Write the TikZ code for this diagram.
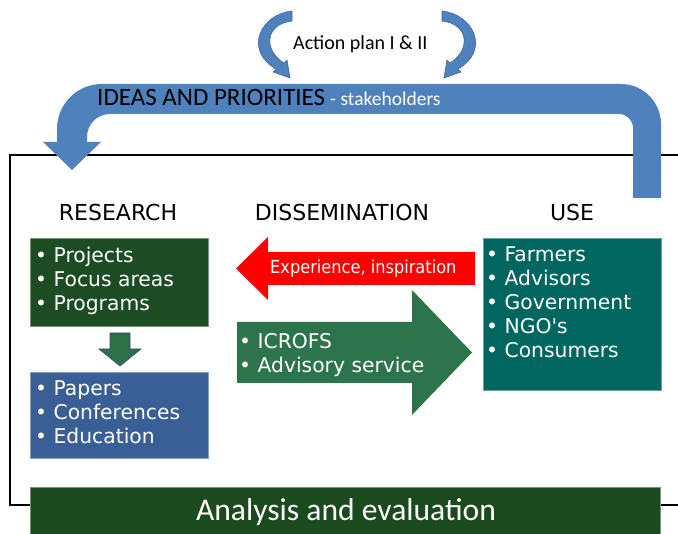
\documentclass[tikz,border=0pt]{standalone}
\usepackage{fontspec}
\setmainfont{DejaVu Sans}
\newfontfamily\calfont{Carlito}
\newfontfamily\narrowfont{DejaVu Sans}[FakeStretch=0.9]
\definecolor{bigblue}{HTML}{4F81BD}
\definecolor{bigblueedge}{HTML}{3A6AA3}
\definecolor{resgreen}{HTML}{1D4C24}
\definecolor{bargreen}{HTML}{1B4A1F}
\definecolor{pubblue}{HTML}{3A5F96}
\definecolor{useteal}{HTML}{00665F}
\definecolor{disgreen}{HTML}{2D744D}
\definecolor{downgreen}{HTML}{2E7047}
\definecolor{expred}{HTML}{FF0000}
\begin{document}
\begin{tikzpicture}[x=1pt,y=-1pt,
  itm/.style={anchor=base west, inner sep=0pt, text=white, font=\fontsize{20.3}{24}\selectfont},
  hdr/.style={anchor=base, inner sep=0pt, font=\fontsize{22}{26}\selectfont},
  boxnode/.style={anchor=north west, inner sep=0pt, outer sep=0pt, line width=0.6pt},
  frameline/.style={line width=2.6pt, black},
  curvearrow/.style={fill=bigblue, draw=bigblueedge, line width=0.6pt}]
\useasboundingbox (0,0) rectangle (678,534);

% frame
\coordinate (ftr) at (678,155);
\coordinate (ftl) at (10,155);
\coordinate (fbl) at (10,505);
\coordinate (fbr) at (678,505);
\draw[frameline] (ftr) -- (ftl) -- (fbl) -- (fbr);

% big blue feedback arrow
\fill[bigblue] (661,198) -- (661,124) .. controls (661,102) and (643,84) .. (621,84)
  -- (102,84) .. controls (77,84) and (57,104) .. (57,129) -- (57,142) -- (43,142)
  -- (72,170) -- (101,142) -- (87,142) -- (87,137)
  .. controls (87,124.3) and (97.3,114) .. (110,114) -- (619,114)
  .. controls (626.7,114) and (633,120.3) .. (633,128) -- (633,198) -- cycle;

\node[anchor=base west, inner sep=0pt, font=\calfont\fontsize{25}{30}\selectfont] (ideas) at (97,106) {IDEAS AND PRIORITIES};
\node[anchor=base west, inner sep=0pt, text=white, font=\calfont\fontsize{19.5}{23}\selectfont] (stake) at (330,106) {- stakeholders};

% action plan curved arrows
\draw[curvearrow] (292,11) .. controls (261,14) and (243,50) .. (276,69) -- (273,72)
  -- (290,78) -- (287,60) -- (284,63) .. controls (263,50) and (265,24) .. (292,21) -- cycle;
\draw[curvearrow] (442,11) .. controls (473,14) and (491,50) .. (458,69) -- (461,72)
  -- (444,78) -- (447,60) -- (450,63) .. controls (471,50) and (469,24) .. (442,21) -- cycle;
\node[anchor=base west, inner sep=0pt, font=\calfont\fontsize{20}{24}\selectfont] (plan) at (293,50) {Action plan I \& II};

% headers
\node[hdr] (hres) at (118,221) {RESEARCH};
\node[hdr] (hdis) at (342,221) {DISSEMINATION};
\node[hdr] (huse) at (572,221) {USE};

% research box
\node[boxnode, fill=resgreen, draw=resgreen!60!white, minimum width=178pt, minimum height=88pt] (resbox) at (30,238) {};
\foreach \t [count=\i] in {Projects,Focus areas,Programs}
  \node[itm] (res\i) at (35,{263+24*(\i-1)}) {• \t};

% down arrow
\draw[fill=downgreen, draw=pubblue!80!black, line width=0.6pt]
  (110,333) -- (130,333) -- (130,349) -- (141,349) -- (120,366) -- (99,349) -- (110,349) -- cycle;

% publications box
\node[boxnode, fill=pubblue, draw=pubblue!60!white, minimum width=178pt, minimum height=86pt] (pubbox) at (30,372) {};
\foreach \t [count=\i] in {Papers,Conferences,Education}
  \node[itm] (pub\i) at (35,{396+24*(\i-1)}) {• \t};

% red arrow
\fill[expred] (475,252) -- (268,252) -- (268,237) -- (236,268.5) -- (268,300) -- (268,285) -- (475,285) -- cycle;
\node[anchor=base west, inner sep=0pt, text=white, font=\narrowfont\fontsize{18}{22}\selectfont] (exp) at (270,274) {Experience, inspiration};

% green dissemination arrow
\fill[disgreen] (237,322) -- (412,322) -- (412,290) -- (472,352.5) -- (412,415) -- (412,383) -- (237,383) -- cycle;
\node[itm] (dis1) at (239,349) {• ICROFS};
\node[itm] (dis2) at (239,373) {• Advisory service};

% use box
\node[boxnode, fill=useteal, draw=useteal!60!white, minimum width=178pt, minimum height=152pt] (usebox) at (483,238) {};
\foreach \t [count=\i] in {Farmers,Advisors,Government,NGO\textquotesingle s,Consumers}
  \node[itm] (use\i) at (486,{262+24*(\i-1)}) {• \t};

% analysis bar
\node[boxnode, fill=bargreen, draw=bargreen!60!white, minimum width=630pt, minimum height=50pt] (bar) at (30,487) {};
\node[anchor=base, inner sep=0pt, text=white, font=\calfont\fontsize{31.6}{36}\selectfont] (ae) at (346,521) {Analysis and evaluation};
\end{tikzpicture}
\end{document}
